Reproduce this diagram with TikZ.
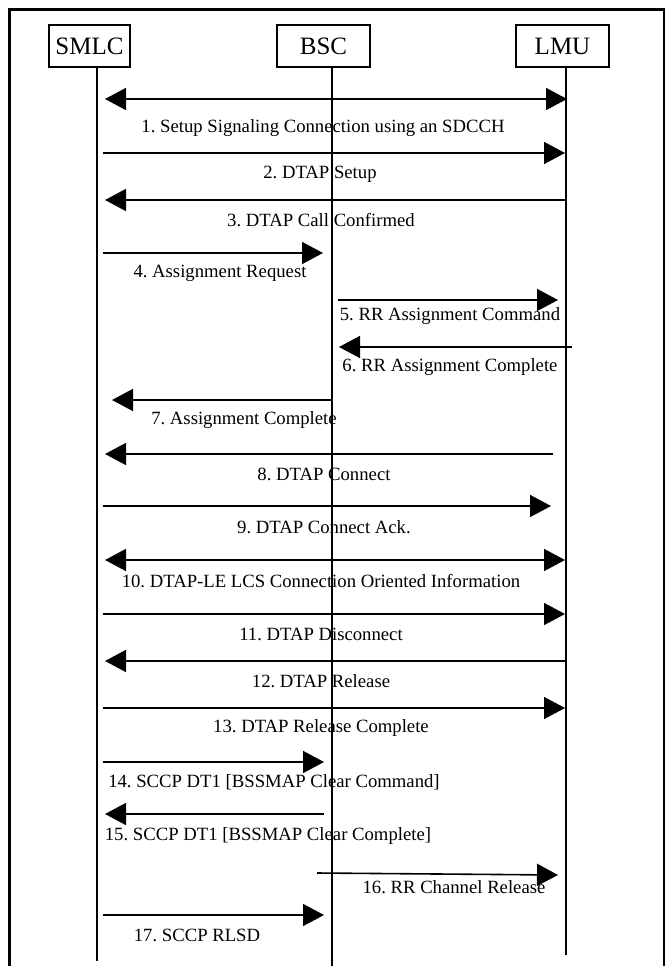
\documentclass[tikz,border=0pt]{standalone}
\usepackage{fontspec}
\setmainfont{Liberation Serif}
\usetikzlibrary{arrows.meta}
\frenchspacing
\tikzset{
  party/.style={draw,line width=1.8pt,minimum height=42pt,inner sep=0pt,
    font=\fontsize{25}{28}\selectfont},
  life/.style={line width=1.6pt},
  msg/.style={line width=1.6pt,-{Triangle[length=21pt,width=22pt]}},
  both/.style={line width=1.6pt,{Triangle[length=21pt,width=22pt]}-{Triangle[length=21pt,width=22pt]}},
  lbl/.style={inner sep=0pt,font=\fontsize{18.7}{20}\selectfont},
  frame/.style={line width=2.4pt}
}
\begin{document}
\begin{tikzpicture}[x=1pt,y=-1pt]
    \useasboundingbox (0,0) rectangle (669,966);
    \draw[frame] (9.5,966) -- (9.5,9.5) -- (664,9.5) -- (664,966);

    % parties and lifelines
    \node[party,minimum width=81pt] (smlc) at (89.5,46) {SMLC};
    \node[party,minimum width=93pt] (bsc) at (323.5,46) {BSC};
    \node[party,minimum width=93pt] (lmu) at (562.5,46) {LMU};
    \coordinate (smlctop) at (97,67); \coordinate (smlcend) at (97,961);
    \coordinate (bsctop) at (332,67); \coordinate (bscend) at (332,966);
    \coordinate (lmutop) at (566,67); \coordinate (lmuend) at (566,955);
    \draw[life] (smlctop)--(smlcend); \draw[life] (bsctop)--(bscend); \draw[life] (lmutop)--(lmuend);

    % messages
    \coordinate (a1) at (105,99); \coordinate (b1) at (567,99); \draw[both] (a1)--(b1);
    \node[lbl] (t1) at (323,128) {1. Setup Signaling Connection using an SDCCH};
    \coordinate (a2) at (103,153); \coordinate (b2) at (565,153); \draw[msg] (a2)--(b2);
    \node[lbl] (t2) at (320,174) {2. DTAP Setup};
    \coordinate (a3) at (566,200); \coordinate (b3) at (105,200); \draw[msg] (a3)--(b3);
    \node[lbl] (t3) at (321,220) {3. DTAP Call Confirmed};
    \coordinate (a4) at (103,253); \coordinate (b4) at (323,253); \draw[msg] (a4)--(b4);
    \node[lbl] (t4) at (220,273) {4. Assignment Request};
    \coordinate (a5) at (338,300); \coordinate (b5) at (558,300); \draw[msg] (a5)--(b5);
    \node[lbl] (t5) at (450,316) {5. RR Assignment Command};
    \coordinate (a6) at (572,347); \coordinate (b6) at (339,347); \draw[msg] (a6)--(b6);
    \node[lbl] (t6) at (450,367) {6. RR Assignment Complete};
    \coordinate (a7) at (331,400); \coordinate (b7) at (112,400); \draw[msg] (a7)--(b7);
    \node[lbl] (t7) at (244,420) {7. Assignment Complete};
    \coordinate (a8) at (553,454); \coordinate (b8) at (105,454); \draw[msg] (a8)--(b8);
    \node[lbl] (t8) at (324,474) {8. DTAP Connect};
    \coordinate (a9) at (103,506); \coordinate (b9) at (551,506); \draw[msg] (a9)--(b9);
    \node[lbl] (t9) at (324,527) {9. DTAP Connect Ack.};
    \coordinate (a10) at (105,560); \coordinate (b10) at (565,560); \draw[both] (a10)--(b10);
    \node[lbl] (t10) at (321,581) {10. DTAP-LE LCS Connection Oriented Information};
    \coordinate (a11) at (103,614); \coordinate (b11) at (565,614); \draw[msg] (a11)--(b11);
    \node[lbl] (t11) at (321,634) {11. DTAP Disconnect};
    \coordinate (a12) at (566,661); \coordinate (b12) at (105,661); \draw[msg] (a12)--(b12);
    \node[lbl] (t12) at (321,681) {12. DTAP Release};
    \coordinate (a13) at (103,708); \coordinate (b13) at (565,708); \draw[msg] (a13)--(b13);
    \node[lbl] (t13) at (321,728) {13. DTAP Release Complete};
    \coordinate (a14) at (103,762); \coordinate (b14) at (324,762); \draw[msg] (a14)--(b14);
    \node[lbl] (t14) at (274,782) {14. SCCP DT1 [BSSMAP Clear Command]};
    \coordinate (a15) at (324,814); \coordinate (b15) at (105,814); \draw[msg] (a15)--(b15);
    \node[lbl] (t15) at (268,836) {15. SCCP DT1 [BSSMAP Clear Complete]};
    \coordinate (a16) at (317,873); \coordinate (b16) at (558,875); \draw[msg] (a16)--(b16);
    \node[lbl] (t16) at (454,887) {16. RR Channel Release};
    \coordinate (a17) at (103,915); \coordinate (b17) at (324,915); \draw[msg] (a17)--(b17);
    \node[lbl] (t17) at (197,935) {17. SCCP RLSD};
\end{tikzpicture}
\end{document}
